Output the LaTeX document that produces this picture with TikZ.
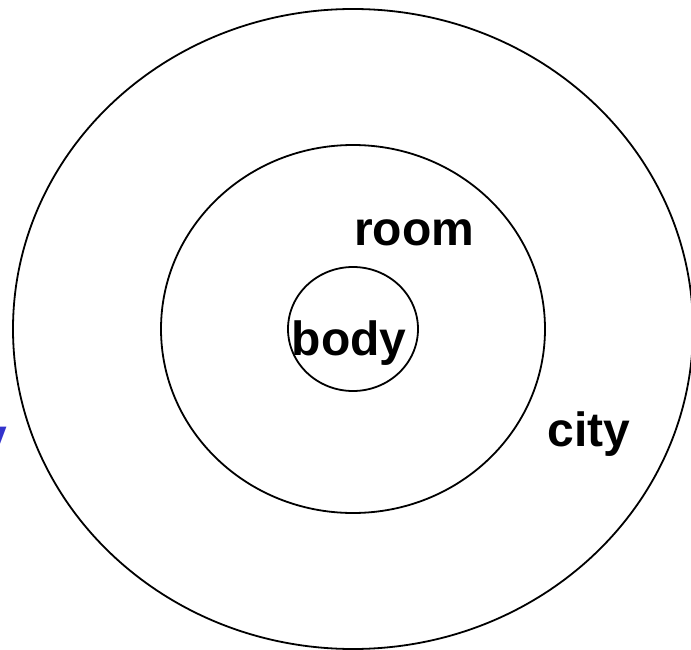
\documentclass[tikz,border=0pt]{standalone}
\usepackage{fontspec}
\setmainfont{Liberation Sans}
\usetikzlibrary{positioning}
\definecolor{cRing}{HTML}{000000}
\definecolor{cHint}{HTML}{3333CC}
\tikzset{
  ring/.style ={draw=cRing,line width=1.8pt},
  word/.style ={font=\fontsize{48}{52}\selectfont\bfseries,inner sep=0pt,
                anchor=base,text=black},
  hint/.style ={word,anchor=base east,text=cHint},
}

\begin{document}
\begin{tikzpicture}[x=1pt,y=-1pt]
\useasboundingbox (0,0) rectangle (691,650);

% ===== nested rings ======================================================
\coordinate (ctr) at (353,329);
\draw[ring] (ctr) ellipse [x radius=340, y radius=320];
\draw[ring] (ctr) ellipse [x radius=192, y radius=184];
\draw[ring] (ctr) ellipse [x radius=65,  y radius=62];

% ===== labels ============================================================
\node[word] (room) at (414,245) {room};
\node[word] (body) at (349,355) {body};
\node[word] (city) at (589,446) {city};
\node[hint] (cut)  at (7,452)   {y};
\end{tikzpicture}
\end{document}
